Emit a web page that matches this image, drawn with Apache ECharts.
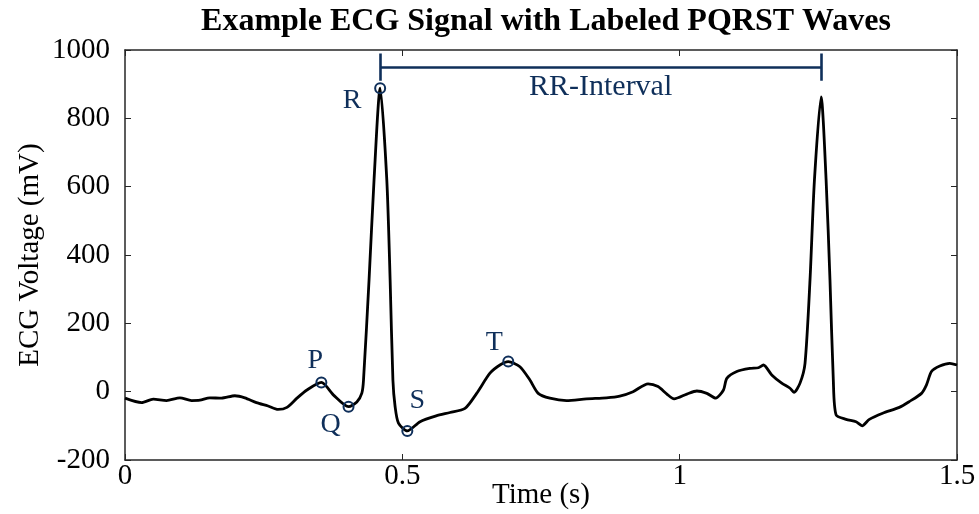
<!DOCTYPE html>
<html>
<head>
<meta charset="utf-8">
<script src="https://cdn.jsdelivr.net/npm/echarts@6/dist/echarts.min.js"></script>
<style>
  html, body { margin: 0; padding: 0; background: #fff; }
  #main { width: 979px; height: 514px; }
</style>
</head>
<body>
<div id="main"></div>
<script>
// ECG trace (time in s, voltage in mV)
const timeS = [
  0.000, 0.030, 0.051, 0.075, 0.099, 0.120, 0.135, 0.153, 0.174, 0.198,
  0.216, 0.237, 0.258, 0.276, 0.292, 0.310, 0.328, 0.354, 0.376, 0.403,
  0.418, 0.427, 0.430, 0.440, 0.449, 0.460, 0.472, 0.478, 0.483, 0.487,
  0.493, 0.509, 0.532, 0.561, 0.586, 0.613, 0.634, 0.658, 0.676, 0.691,
  0.712, 0.730, 0.745, 0.766, 0.796, 0.832, 0.868, 0.892, 0.916, 0.943,
  0.961, 0.977, 0.990, 1.013, 1.031, 1.049, 1.065, 1.079, 1.085, 1.103,
  1.127, 1.142, 1.151, 1.166, 1.184, 1.199, 1.206, 1.217, 1.226, 1.235,
  1.243, 1.255, 1.264, 1.271, 1.277, 1.282, 1.300, 1.318, 1.329, 1.342,
  1.366, 1.396, 1.414, 1.436, 1.445, 1.454, 1.469, 1.487, 1.500
];
const voltage = [
  -19, -32, -22, -26, -18, -26, -25, -18, -19, -12,
  -18, -32, -42, -52, -46, -19, 5, 27, -10, -44,
  -30, -4, 34, 327, 620, 888, 620, 327, 34, -44,
  -92, -115, -88, -71, -61, -49, -5, 54, 78, 88,
  73, 34, -5, -19, -26, -21, -18, -13, 0, 23,
  15, -7, -21, -7, 2, -5, -19, 5, 39, 59,
  68, 70, 78, 49, 25, 10, -2, 25, 83, 327,
  620, 863, 620, 327, 34, -68, -81, -88, -100, -81,
  -63, -46, -29, -5, 20, 59, 75, 83, 78
];

// labeled waves
const waveNames = ['P', 'Q', 'R', 'S', 'T'];
const waveTimes = [0.354, 0.403, 0.460, 0.509, 0.691];
const waveValues = [27, -44, 888, -115, 88];

// RR interval bracket
const rrStart = 0.460;
const rrEnd = 1.255;
const rrLevel = 950;
const rrTickHalf = 40;

const xTicks = [0, 0.5, 1, 1.5];
const yMin = -200, yMax = 1000, yStep = 200;

const navy = '#0f2f5a';
const axisColor = '#262626';
const serif = '"Liberation Serif", "DejaVu Serif", serif';

// label offsets per wave (px), style only
const labelOffsets = { P: [-6, -22], Q: [-18, 18], R: [-28, 12], S: [10, -30], T: [-14, -19] };

const chart = echarts.init(document.getElementById('main'));

const trace = timeS.map((t, i) => [t, voltage[i]]);
const waves = waveNames.map((n, i) => ({
  value: [waveTimes[i], waveValues[i]],
  name: n,
  label: { offset: labelOffsets[n] }
}));

const baseX = {
  type: 'value', min: xTicks[0], max: xTicks[xTicks.length - 1], interval: 0.5,
  axisLine: { show: true, onZero: false, lineStyle: { color: axisColor, width: 1.5 } },
  axisTick: { show: true, inside: true, length: 6, lineStyle: { color: axisColor, width: 1 } },
  splitLine: { show: false }
};
const baseY = {
  type: 'value', min: yMin, max: yMax, interval: yStep,
  axisLine: { show: true, onZero: false, lineStyle: { color: axisColor, width: 1.5 } },
  axisTick: { show: true, inside: true, length: 6, lineStyle: { color: axisColor, width: 1 } },
  splitLine: { show: false }
};

chart.setOption({
  animation: false,
  backgroundColor: '#fff',
  title: {
    text: 'Example ECG Signal with Labeled PQRST Waves',
    left: 541, top: 1, textAlign: 'center',
    textStyle: { fontFamily: serif, fontSize: 32, fontWeight: 'bold', color: '#000' }
  },
  grid: { left: 125, right: 22, top: 50, bottom: 54, containLabel: false, outerBoundsMode: 'none' },
  xAxis: [
    Object.assign({}, baseX, {
      position: 'bottom',
      name: 'Time (s)', nameLocation: 'middle', nameGap: 21, nameMoveOverlap: false,
      nameTextStyle: { fontFamily: serif, fontSize: 29, color: '#000' },
      axisLabel: { margin: 2, fontFamily: serif, fontSize: 29, color: '#000' }
    }),
    Object.assign({}, baseX, { position: 'top', axisLabel: { show: false } })
  ],
  yAxis: [
    Object.assign({}, baseY, {
      position: 'left',
      name: 'ECG Voltage (mV)', nameLocation: 'middle', nameGap: 80, nameMoveOverlap: false,
      nameTextStyle: { fontFamily: serif, fontSize: 29, color: '#000' },
      axisLabel: { margin: 15, fontFamily: serif, fontSize: 29, color: '#000', formatter: v => String(v) }
    }),
    Object.assign({}, baseY, { position: 'right', axisLabel: { show: false } })
  ],
  series: [
    {
      type: 'line', xAxisIndex: 0, yAxisIndex: 0,
      data: trace, showSymbol: false, smooth: 0.25,
      lineStyle: { color: '#000', width: 2.8 }, z: 2
    },
    {
      type: 'lines', coordinateSystem: 'cartesian2d', xAxisIndex: 0, yAxisIndex: 0,
      polyline: false,
      lineStyle: { color: navy, width: 2.6, opacity: 1 },
      data: [
        { coords: [[rrStart, rrLevel], [rrEnd, rrLevel]] },
        { coords: [[rrStart, rrLevel - rrTickHalf], [rrStart, rrLevel + rrTickHalf]] },
        { coords: [[rrEnd, rrLevel - rrTickHalf], [rrEnd, rrLevel + rrTickHalf]] }
      ],
      z: 3
    },
    {
      type: 'scatter', xAxisIndex: 0, yAxisIndex: 0,
      data: [{ value: [(rrStart + rrEnd) / 2, rrLevel], name: 'RR-Interval' }],
      symbolSize: 0,
      itemStyle: { opacity: 1 },
      label: {
        show: true, position: 'bottom', distance: 5,
        formatter: '{b}', fontFamily: serif, fontSize: 30, color: navy
      },
      z: 4
    },
    {
      type: 'scatter', xAxisIndex: 0, yAxisIndex: 0,
      data: waves,
      symbol: 'circle', symbolSize: 10,
      itemStyle: { color: 'rgba(0,0,0,0)', borderColor: navy, borderWidth: 2, opacity: 1 },
      label: {
        show: true, position: 'inside', formatter: '{b}',
        fontFamily: serif, fontSize: 28, color: navy
      },
      z: 5
    }
  ]
});
</script>
</body>
</html>
